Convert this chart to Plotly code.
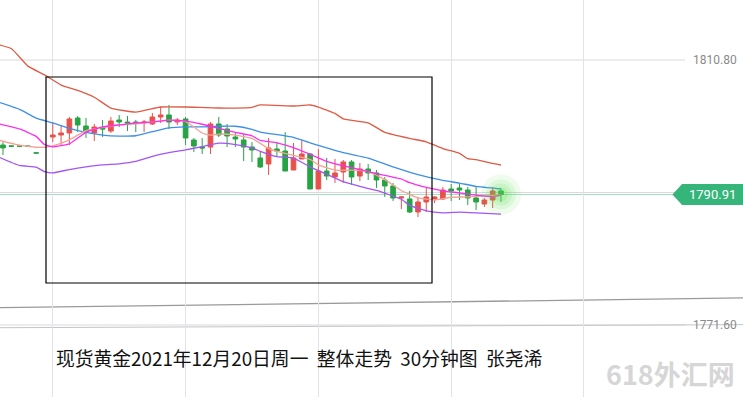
import plotly.graph_objects as go

# ---- candle data (30-min bars, index = bar number) ----
bar_idx = [0, 1, 2, 3, 4] + list(range(6, 61))
opens = [1798.23, 1798.10, 1798.08, 1798.08, 1797.08,
         1799.41, 1799.71, 1800.01, 1802.22, 1801.04, 1800.01, 1800.75, 1800.30, 1801.93, 1801.63,
         1801.63, 1801.48, 1801.34, 1802.37, 1802.67, 1801.63, 1802.08, 1798.97, 1797.93, 1797.93,
         1801.34, 1800.60, 1799.41, 1798.97, 1797.93, 1796.31, 1795.42, 1797.64, 1797.34, 1794.53,
         1796.16, 1796.90, 1791.72, 1794.38, 1793.50, 1794.24, 1795.72, 1793.64, 1794.68, 1794.09,
         1793.05, 1792.17, 1790.39, 1790.24, 1788.32, 1789.80, 1790.24, 1790.24, 1791.72, 1791.87,
         1791.57, 1790.39, 1789.50, 1790.09, 1791.43]
highs = [1798.67, 1798.20, 1798.15, 1798.15, 1797.12,
         1801.63, 1801.19, 1802.37, 1802.52, 1802.22, 1801.34, 1801.93, 1802.37, 1802.67, 1802.52,
         1801.93, 1801.93, 1802.96, 1803.85, 1804.15, 1802.22, 1802.37, 1799.27, 1799.27, 1801.63,
         1802.37, 1801.34, 1800.01, 1799.71, 1798.67, 1797.20, 1799.27, 1798.67, 1800.15, 1798.53,
         1798.97, 1797.05, 1797.64, 1796.31, 1796.16, 1796.01, 1796.01, 1795.57, 1795.42, 1794.53,
         1793.50, 1792.61, 1790.69, 1791.43, 1790.54, 1792.02, 1790.69, 1792.02, 1792.46, 1792.46,
         1792.02, 1792.02, 1790.39, 1792.02, 1791.87]
lows = [1796.75, 1797.95, 1798.00, 1797.95, 1797.00,
        1798.67, 1798.23, 1798.23, 1800.15, 1799.27, 1798.82, 1799.41, 1800.01, 1800.89, 1800.30,
        1800.15, 1800.15, 1801.19, 1801.48, 1800.60, 1801.19, 1798.23, 1797.20, 1796.90, 1796.90,
        1799.41, 1797.93, 1797.93, 1795.86, 1795.72, 1794.83, 1793.79, 1796.46, 1794.38, 1794.53,
        1796.16, 1791.72, 1791.72, 1793.05, 1792.61, 1792.61, 1792.32, 1792.91, 1793.05, 1791.87,
        1790.54, 1789.95, 1788.76, 1788.17, 1787.58, 1788.32, 1789.65, 1790.09, 1789.95, 1790.09,
        1789.35, 1788.61, 1789.06, 1788.91, 1789.80]
closes = [1797.79, 1798.05, 1798.05, 1798.03, 1797.03,
          1799.71, 1800.01, 1802.08, 1801.19, 1800.30, 1800.89, 1800.60, 1801.78, 1801.63, 1801.48,
          1801.48, 1801.63, 1802.37, 1802.67, 1801.63, 1801.93, 1799.27, 1798.08, 1797.79, 1801.34,
          1799.71, 1799.56, 1799.12, 1797.93, 1797.49, 1794.98, 1797.79, 1797.34, 1794.38, 1796.31,
          1796.90, 1791.72, 1794.38, 1793.64, 1794.09, 1795.72, 1793.50, 1794.68, 1794.09, 1793.05,
          1792.17, 1790.39, 1790.54, 1788.32, 1789.80, 1790.54, 1790.54, 1791.57, 1791.43, 1791.57,
          1790.39, 1789.80, 1790.09, 1791.43, 1790.91]

# ---- indicator lines ----
upper_x = [-1, 1, 3, 5, 7, 9, 11, 13, 16, 19, 22, 26, 30, 31, 35, 37, 38, 40, 41, 44, 46, 49, 51, 53, 55, 56, 57, 59, 60]
upper_y = [1813.2, 1812.5, 1809.9, 1808.6, 1807.1, 1806.3, 1805.3, 1803.7, 1803.1, 1803.85, 1803.85, 1803.7,
           1803.8, 1804.15, 1804.0, 1804.15, 1803.85, 1802.9, 1802.1, 1801.5, 1800.1, 1799.2, 1798.7, 1797.7,
           1797.0, 1796.2, 1796.05, 1795.5, 1795.27]
mid_x = [-1, 2, 4, 6, 8, 10, 12, 14, 16, 18, 20, 22, 24, 26, 28, 30, 31, 35, 37, 41, 44, 47, 50, 53, 55, 57, 60]
mid_y = [1804.75, 1803.5, 1802.2, 1801.5, 1800.7, 1800.1, 1799.7, 1799.55, 1799.6, 1800.2, 1800.75, 1800.9,
         1800.9, 1801.0, 1801.0, 1800.55, 1800.15, 1799.35, 1798.55, 1797.1, 1796.3, 1795.0, 1793.85, 1793.0,
         1792.6, 1792.1, 1791.72]
lower_x = [-1, 2, 4, 5, 6, 8, 10, 12, 14, 16, 18, 20, 22, 24, 26, 28, 30, 31, 33, 35, 37, 39, 41, 43, 45, 48, 49, 51, 53, 55, 57, 60]
lower_y = [1796.7, 1795.2, 1794.95, 1794.3, 1794.1, 1794.6, 1795.0, 1795.3, 1795.45, 1795.8, 1796.55, 1797.1,
           1797.5, 1798.0, 1798.5, 1798.3, 1797.8, 1797.3, 1796.5, 1796.3, 1795.0, 1793.9, 1792.8, 1792.1,
           1791.5, 1790.2, 1789.3, 1788.5, 1788.2, 1788.3, 1788.2, 1788.0]
magenta_x = [-1, 2, 4, 5, 6, 8, 10, 12, 14, 16, 18, 20, 22, 24, 26, 28, 30, 31, 33, 35, 37, 39, 41, 43, 45, 48, 49, 51, 53, 55, 57, 59, 60]
magenta_y = [1801.5, 1800.6, 1799.5, 1798.3, 1797.95, 1798.4, 1800.1, 1800.9, 1801.2, 1801.5, 1801.65, 1801.9,
             1801.75, 1801.3, 1800.7, 1800.1, 1799.6, 1798.9, 1798.55, 1797.85, 1796.85, 1795.8, 1795.15,
             1794.6, 1794.0, 1793.2, 1792.65, 1791.95, 1791.45, 1791.15, 1790.8, 1790.55, 1790.8]
salmon_x = [-1, 2, 4, 5, 6, 8, 10, 12, 14, 16, 18, 20, 22, 23, 24, 25, 26, 28, 30, 32, 33, 35, 37, 38, 40, 42, 44, 46, 48, 50, 52, 54, 56, 58, 60]
salmon_y = [1799.1, 1798.2, 1797.9, 1797.9, 1798.1, 1799.0, 1800.35, 1800.8, 1801.2, 1801.35, 1801.65, 1801.9,
            1801.7, 1800.9, 1800.0, 1799.7, 1799.85, 1799.7, 1799.2, 1797.7, 1797.3, 1796.7, 1796.1, 1795.3,
            1794.5, 1794.5, 1794.3, 1793.1, 1791.5, 1790.4, 1790.1, 1790.5, 1790.55, 1790.7, 1790.83]

last_price = 1790.91
grid_prices = [1810.80, 1791.20, 1771.60]
label_prices = [1810.80, 1771.60]
vgrid_bars = [6, 22, 38, 54, 70]
trend1 = (1774.16, 1775.60)
trend2 = (1771.2, 1771.65)
title_text = "现货黄金2021年12月20日周一\u00a0\u00a0整体走势\u00a0\u00a030分钟图\u00a0\u00a0张尧浠"

RED = "#e8514b"
GREEN = "#26a343"

fig = go.Figure()

fig.add_trace(go.Candlestick(
    x=bar_idx, open=opens, high=highs, low=lows, close=closes,
    increasing=dict(line=dict(color=RED, width=1), fillcolor=RED),
    decreasing=dict(line=dict(color=GREEN, width=1), fillcolor=GREEN),
    whiskerwidth=0, hoverinfo="skip", showlegend=False))

def line(x, y, color, w=1.3):
    fig.add_trace(go.Scatter(x=x, y=y, mode="lines", line=dict(color=color, width=w, shape="spline", smoothing=0.4),
                             hoverinfo="skip", showlegend=False))

line(upper_x, upper_y, "#e05a45")
line(mid_x, mid_y, "#3d8fe8")
line(lower_x, lower_y, "#a455f5")
line(salmon_x, salmon_y, "#f5a394")
line(magenta_x, magenta_y, "#fb2ef0")

# glow on the last bar
for s, a in [(40, 0.10), (30, 0.12), (22, 0.15), (14, 0.2)]:
    fig.add_trace(go.Scatter(x=[bar_idx[-1]], y=[last_price], mode="markers",
                             marker=dict(size=s, color="rgba(90,220,80,%s)" % a, line=dict(width=0)),
                             hoverinfo="skip", showlegend=False))

shapes = []
for p in grid_prices:
    shapes.append(dict(type="line", xref="paper", yref="y", x0=0, x1=0.922, y0=p, y1=p,
                       line=dict(color="#d9d9de", width=1), layer="below"))
shapes.append(dict(type="line", xref="paper", yref="y", x0=0, x1=1, y0=trend1[0], y1=trend1[1],
                   line=dict(color="#9a9a9a", width=1.3), layer="below"))
shapes.append(dict(type="line", xref="paper", yref="y", x0=0, x1=1, y0=trend2[0], y1=trend2[1],
                   line=dict(color="#c4c4c4", width=1), layer="below"))
# last price line
shapes.append(dict(type="line", xref="paper", yref="y", x0=0, x1=0.906, y0=last_price, y1=last_price,
                   line=dict(color="#a6dcc0", width=1.2), layer="below"))
# last price tag
h = 1.55
shapes.append(dict(type="path", xref="paper", yref="y",
                   path=f"M 0.905,{last_price} L 0.918,{last_price+h} L 1,{last_price+h} L 1,{last_price-h} L 0.918,{last_price-h} Z",
                   fillcolor="#35b57a", line=dict(width=0)))
# black box
shapes.append(dict(type="rect", xref="paper", yref="paper", x0=46/743, x1=432/743,
                   y0=1-283/397, y1=1-77/397, line=dict(color="#000000", width=1.2)))

annotations = []
for p in label_prices:
    annotations.append(dict(x=0.995, xref="paper", y=p, yref="y", text=f"{p:.2f}", showarrow=False,
                            xanchor="right", yanchor="middle", font=dict(size=12, color="#8a8a8a", family="Roboto")))
annotations.append(dict(x=0.959, xref="paper", y=last_price, yref="y", text=f"{last_price:.2f}", showarrow=False,
                        xanchor="center", yanchor="middle", font=dict(size=13, color="#ffffff", family="Roboto")))
annotations.append(dict(x=54/743, xref="paper", y=1-357/397, yref="paper", text=title_text, showarrow=False,
                        xanchor="left", yanchor="middle", font=dict(size=18.8, color="#111111", family="Noto Sans CJK SC")))
annotations.append(dict(x=737/743, xref="paper", y=1-373/397, yref="paper", text="<b>618外汇网</b>", showarrow=False,
                        xanchor="right", yanchor="middle", font=dict(size=27, color="#d6d6d6", family="Noto Sans CJK SC")))

fig.update_layout(
    width=743, height=397, margin=dict(l=0, r=0, t=0, b=0),
    paper_bgcolor="white", plot_bgcolor="white", boxgap=0.2,
    shapes=shapes, annotations=annotations, showlegend=False,
    xaxis=dict(range=[-0.36, 89.16], tickvals=vgrid_bars, showticklabels=False, showgrid=True,
               gridcolor="#e2e2e8", gridwidth=1, zeroline=False, rangeslider=dict(visible=False), fixedrange=True),
    yaxis=dict(range=[1760.95, 1819.68], showticklabels=False, showgrid=False, zeroline=False, fixedrange=True),
)

fig.write_html("out.html", config={"displayModeBar": False},
               post_script="document.body.style.margin='0';document.body.style.padding='0';document.body.style.overflow='hidden';")
